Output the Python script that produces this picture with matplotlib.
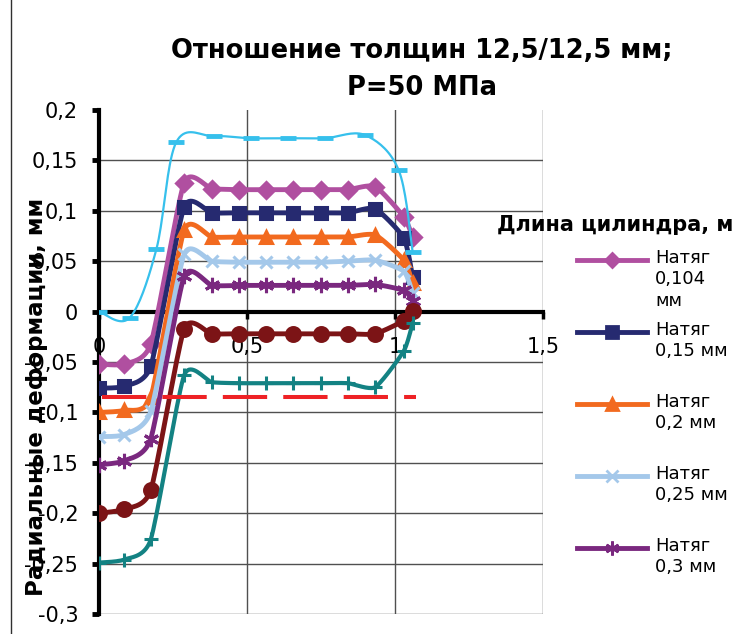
import numpy as np
import matplotlib.pyplot as plt
from matplotlib.lines import Line2D

# длина цилиндра, м
x = [0, 0.085, 0.175, 0.288, 0.381, 0.472, 0.565, 0.656, 0.749, 0.84, 0.933, 1.03, 1.06]
n0104 = [-0.052, -0.052, -0.032, 0.128, 0.122, 0.121, 0.121, 0.121, 0.121, 0.121, 0.124, 0.094, 0.074]
n015 = [-0.076, -0.074, -0.054, 0.104, 0.098, 0.098, 0.098, 0.098, 0.098, 0.098, 0.102, 0.073, 0.034]
n02 = [-0.100, -0.098, -0.085, 0.081, 0.074, 0.074, 0.074, 0.074, 0.074, 0.074, 0.076, 0.051, 0.028]
n025 = [-0.124, -0.122, -0.099, 0.057, 0.050, 0.049, 0.049, 0.049, 0.049, 0.050, 0.051, 0.040, 0.018]
n03 = [-0.152, -0.148, -0.126, 0.035, 0.026, 0.026, 0.026, 0.026, 0.026, 0.026, 0.027, 0.021, 0.011]
s_red = [-0.200, -0.196, -0.177, -0.017, -0.022, -0.022, -0.022, -0.022, -0.022, -0.022, -0.022, -0.009, 0.001]
s_teal = [-0.249, -0.246, -0.226, -0.063, -0.070, -0.071, -0.071, -0.071, -0.071, -0.071, -0.075, -0.039, -0.011]

x_cyan = [0, 0.104, 0.194, 0.261, 0.388, 0.512, 0.639, 0.763, 0.9, 1.013, 1.06]
s_cyan = [0, -0.006, 0.062, 0.168, 0.174, 0.172, 0.172, 0.172, 0.175, 0.140, 0.059]

x_lim = [0.01, 1.07]
y_lim = [-0.085, -0.085]

yticks = [-0.3, -0.25, -0.2, -0.15, -0.1, -0.05, 0, 0.05, 0.1, 0.15, 0.2]
ylabels = ['-0,3', '-0,25', '-0,2', '-0,15', '-0,1', '-0,05', '0', '0,05', '0,1', '0,15', '0,2']
xticks = [0, 0.5, 1, 1.5]
xlabels = ['0', '0,5', '1', '1,5']

legend_names = ['Натяг\n0,104\nмм', 'Натяг\n0,15 мм', 'Натяг\n0,2 мм', 'Натяг\n0,25 мм', 'Натяг\n0,3 мм']


def smooth(xs, ys, k=20, tens=10):
    # сглаживание линии (кривая Безье через точки)
    p = np.column_stack([xs, ys]).astype(float)
    out = []
    for i in range(len(p) - 1):
        p0 = p[i - 1] if i > 0 else p[i]
        p1, p2 = p[i], p[i + 1]
        p3 = p[i + 2] if i + 2 < len(p) else p[i + 1]
        c1 = p1 + (p2 - p0) / tens
        c2 = p2 - (p3 - p1) / tens
        t = np.linspace(0, 1, k)[:, None]
        seg = (1 - t)**3 * p1 + 3 * (1 - t)**2 * t * c1 + 3 * (1 - t) * t**2 * c2 + t**3 * p2
        out.append(seg if i == 0 else seg[1:])
    out = np.vstack(out)
    return out[:, 0], out[:, 1]


fig = plt.figure(figsize=(7.55, 6.34), dpi=100)
ax = fig.add_axes([0.1311, 0.0315, 0.588, 0.795])

styles = [
    (n0104, '#B04FA0', 'D', 8, 3.5),
    (n015, '#262A70', 's', 9, 3.5),
    (n02, '#F26A1F', '^', 9, 3.5),
    (n025, '#A4C8EA', 'x', 9, 3.5),
    (n03, '#7A287F', (6, 2, 0), 11, 3.5),
    (s_red, '#7C1416', 'o', 10, 3.5),
    (s_teal, '#138283', '+', 10, 3.0),
]
for ys, c, m, ms, lw in styles:
    sx, sy = smooth(x, ys)
    ax.plot(sx, sy, color=c, lw=lw, solid_capstyle='round', zorder=3)
    ax.plot(x, ys, ls='none', marker=m, ms=ms, color=c, mec=c, mew=2.2, zorder=3)

sx, sy = smooth(x_cyan, s_cyan, tens=6)
ax.plot(sx, sy, color='#36C0EC', lw=1.6, zorder=3)
ax.plot(x_cyan, s_cyan, ls='none', marker='_', ms=11, mew=3.5, color='#36C0EC', zorder=3)

ax.plot(x_lim, y_lim, color='#EE2225', lw=2.9, dashes=(11, 4), zorder=4)

ax.set_xlim(0, 1.5)
ax.set_ylim(-0.3, 0.2)
ax.set_yticks(yticks)
ax.set_yticklabels(ylabels)
ax.set_xticks(xticks)
ax.set_xticklabels(xlabels)

ax.spines['left'].set_position(('data', 0))
ax.spines['bottom'].set_position(('data', 0))
ax.spines['left'].set_linewidth(3)
ax.spines['bottom'].set_linewidth(3)
ax.spines['top'].set_visible(False)
ax.spines['right'].set_visible(False)
ax.tick_params(axis='y', direction='out', length=5, width=3.5, pad=10, labelsize=15)
ax.tick_params(axis='x', direction='out', length=5, width=2.5, pad=13, labelsize=15)

ax.grid(True, color='#505050', lw=1.0, zorder=0)
ax.set_axisbelow(True)
ax.yaxis.get_gridlines()[-1].set_visible(False)
ax.xaxis.get_gridlines()[0].set_visible(False)

ax.set_ylabel('Радиальные деформации, мм', fontsize=16.5, fontweight='bold')
ax.yaxis.set_label_coords(-0.115, 0.43)

fig.text(0.559, 0.891, 'Отношение толщин 12,5/12,5 мм;\nP=50 МПа', ha='center', va='center',
         fontsize=18.5, fontweight='bold', linespacing=1.55)
fig.text(0.658, 0.645, 'Длина цилиндра, м', ha='left', va='center', fontsize=15, fontweight='bold')

# легенда
W, H = 755, 634
for i, (ys, c, m, ms, lw) in enumerate(styles[:5]):
    yy = 1 - (260 + 72 * i) / H
    fig.add_artist(Line2D([577 / W, 647 / W], [yy, yy], color=c, lw=lw, transform=fig.transFigure))
    fig.add_artist(Line2D([612 / W], [yy], ls='none', marker=m, ms=ms - 1, color=c, mec=c, mew=2,
                          transform=fig.transFigure))
    fig.text(655 / W, yy + 11 / H, legend_names[i], ha='left', va='top', fontsize=13, linespacing=1.25)

fig.add_artist(Line2D([11 / W, 11 / W], [0, 1], color='#303030', lw=1, transform=fig.transFigure))

fig.savefig('out.png', dpi=100)
